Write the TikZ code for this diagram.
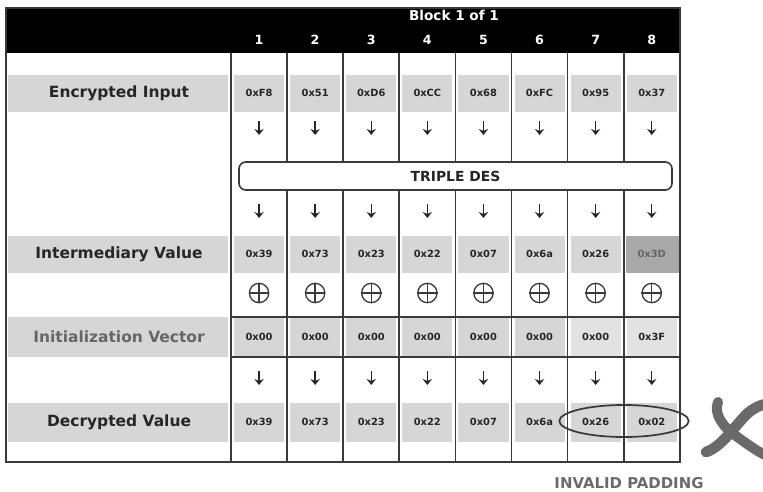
\documentclass[tikz,border=0pt]{standalone}
\usepackage{fontspec}
\setmainfont{DejaVu Sans}
\usetikzlibrary{shapes.geometric,arrows.meta}
\definecolor{band}{HTML}{D6D6D6}
\definecolor{bandlight}{HTML}{E2E2E2}
\definecolor{banddark}{HTML}{A9A9A9}
\definecolor{rule}{HTML}{3A3A3A}
\definecolor{txt}{HTML}{262626}
\definecolor{xmark}{HTML}{6A6A6A}
\tikzset{
  rowlabel/.style={font=\bfseries\fontsize{11.6}{13}\selectfont, text=txt},
  hexval/.style={font=\bfseries\fontsize{7.4}{9}\selectfont, text=txt},
  colnum/.style={font=\bfseries\fontsize{9.5}{11}\selectfont, text=white},
  downarrow/.style={draw=txt, line width=1.1pt, -{Stealth[width=7pt,length=4.5pt,inset=1.5pt]}},
  gridline/.style={draw=rule, line width=1.3pt},
  xstroke/.style={draw=xmark, line cap=round},
}
\begin{document}
\begin{tikzpicture}[x=0.75pt,y=-0.75pt]
\useasboundingbox (0,0) rectangle (763,492);
% header bar
\fill[black] (6,8) rectangle (680,53);
\node[text=white, font=\fontsize{10.2}{11}\selectfont\bfseries] (blk) at (454,15) {Block 1 of 1};
\foreach \i in {1,...,8} {
  \node[colnum] (num\i) at ({231+56.1*(\i-0.5)},40) {\i};
}
% gray bands in label column
\foreach \y/\h in {75/112, 236/273, 317/357, 403/442} {
  \fill[band] (8,\y) rectangle (228,\h);
}
% gray cells
\foreach \i in {1,...,8} {
  \foreach \y/\h in {75/112, 236/273, 403/442} {
    \fill[band] ({231+56.1*(\i-1)+3},\y) rectangle ({231+56.1*\i-3},\h);
  }
}
\foreach \i in {1,...,6} {
  \fill[band] ({231+56.1*(\i-1)+3},317) rectangle ({231+56.1*\i-3},357);
}
\foreach \i in {7,8} {
  \fill[bandlight] ({231+56.1*(\i-1)+3},317) rectangle ({231+56.1*\i-3},357);
}
\fill[banddark] ({231+56.1*7+2},236) rectangle ({231+56.1*8-1},273);
% grid lines
\foreach \k in {0,...,8} {
  \draw[gridline] ({231+56.1*\k},53) -- ({231+56.1*\k},462);
}
\draw[draw=rule, line width=1.8pt] (6,8) rectangle (680,462);
\draw[draw=rule, line width=1.8pt] (231,317) rectangle (680,357);
% Triple DES box
\node[draw=rule, line width=1.2pt, fill=white, rounded corners=5pt,
      minimum width=324.75pt, minimum height=21pt, inner sep=0pt,
      font=\bfseries\fontsize{10.4}{12}\selectfont, text=txt] (des) at (455.5,176) {TRIPLE DES};
% row labels
\node[rowlabel] (lenc) at (119,93) {Encrypted Input};
\node[rowlabel] (lint) at (119,254) {Intermediary Value};
\node[rowlabel, text=black!60] (liv) at (119,337) {Initialization Vector};
\node[rowlabel] (ldec) at (119,422) {Decrypted Value};
% values
\foreach \v [count=\i] in {0xF8,0x51,0xD6,0xCC,0x68,0xFC,0x95,0x37} {
  \node[hexval] (enc\i) at ({231+56.1*(\i-0.5)},93) {\v};
}
\foreach \v [count=\i] in {0x39,0x73,0x23,0x22,0x07,0x6a,0x26} {
  \node[hexval] (int\i) at ({231+56.1*(\i-0.5)},254) {\v};
}
\node[hexval, text=black!60] (int8) at ({231+56.1*7.5},254) {0x3D};
\foreach \v [count=\i] in {0x00,0x00,0x00,0x00,0x00,0x00,0x00,0x3F} {
  \node[hexval] (iv\i) at ({231+56.1*(\i-0.5)},337) {\v};
}
\foreach \v [count=\i] in {0x39,0x73,0x23,0x22,0x07,0x6a,0x26,0x02} {
  \node[hexval] (dec\i) at ({231+56.1*(\i-0.5)},422) {\v};
}
% arrows and xor
\foreach \i in {1,...,8} {
  \foreach \r/\yy in {a/128, b/211, c/378} {
    \coordinate (\r\i s) at ({231+56.1*(\i-0.5)},\yy-7);
    \coordinate (\r\i e) at ({231+56.1*(\i-0.5)},\yy+7);
    \draw[downarrow] (\r\i s) -- (\r\i e);
  }
  \node[draw=rule, line width=1pt, circle, minimum size=14.5pt, inner sep=0pt] (x\i) at ({231+56.1*(\i-0.5)},293) {};
  \draw[rule, line width=1pt] (x\i.north) -- (x\i.south) (x\i.west) -- (x\i.east);
}
% ellipse around padding bytes
\node[draw=rule, line width=1.3pt, ellipse, minimum width=97pt, minimum height=24pt, inner sep=0pt] (pad) at (624,421) {};
% X mark
\draw[xstroke, line width=7.5pt] (718,402) .. controls (713,414) and (724,428) .. (736,436) .. controls (746,443) and (755,450) .. (765,455);
\draw[xstroke, line width=8pt] (706,452) .. controls (722,447) and (736,424) .. (748,413) .. controls (754,408) and (760,405) .. (766,404);
\node[font=\bfseries\fontsize{11.2}{13}\selectfont, text=black!58] (inv) at (629,483) {INVALID PADDING};
\end{tikzpicture}
\end{document}
